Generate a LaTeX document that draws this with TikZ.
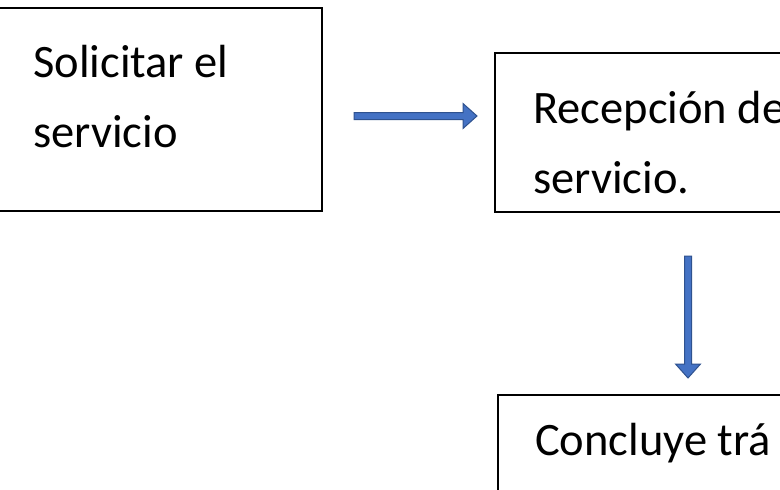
\documentclass[tikz,border=0pt]{standalone}
\usepackage{fontspec}
\setmainfont{Carlito}
\usetikzlibrary{calc}
\definecolor{arrowblue}{HTML}{4472C4}
\definecolor{arrowdark}{HTML}{2F528F}
\begin{document}
\begin{tikzpicture}[x=1pt,y=-1pt,
  box/.style={draw=black,line width=2.6pt,fill=none},
  txt/.style={anchor=base west,inner sep=0pt,font=\fontsize{46.5}{56}\selectfont},
  arr/.style={fill=arrowblue,draw=arrowdark,line width=1pt,line join=miter}]
\useasboundingbox (0,0) rectangle (780,490);
\clip (0,0) rectangle (780,490);
\fill[white] (0,0) rectangle (780,490);
% boxes
\draw[box] (-20,8) rectangle (322,211);
\coordinate (b1e) at (322,116);
\draw[box] (495,53) rectangle (900,212);
\coordinate (b2w) at (495,116);
\coordinate (b2s) at (688,212);
\draw[box] (498,395) rectangle (900,600);
\coordinate (b3n) at (688,395);
% texts
\node[txt] (t1a) at (33,77) {Solicitar el};
\node[txt] (t1b) at (33,147) {servicio};
\node[txt] (t2a) at (533,123) {Recepción de};
\node[txt] (t2b) at (533,193) {servicio.};
\node[txt] (t3a) at (535,455) {Concluye trá};
% arrow 1 (horizontal)
\coordinate (p1) at ($(b1e)+(32,0)$);
\coordinate (q1) at ($(b2w)+(-18,0)$);
\draw[arr] ($(p1)+(0,-3.5)$) -- ($(q1)+(-14,-3.5)$) -- ($(q1)+(-14,-12.5)$) -- (q1)
  -- ($(q1)+(-14,12.5)$) -- ($(q1)+(-14,3.5)$) -- ($(p1)+(0,3.5)$) -- cycle;
% arrow 2 (vertical)
\coordinate (p2) at ($(b2s)+(0,44)$);
\coordinate (q2) at ($(b3n)+(0,-17)$);
\draw[arr] ($(p2)+(-3.5,0)$) -- ($(q2)+(-3.5,-14)$) -- ($(q2)+(-12.5,-14)$) -- (q2)
  -- ($(q2)+(12.5,-14)$) -- ($(q2)+(3.5,-14)$) -- ($(p2)+(3.5,0)$) -- cycle;
\end{tikzpicture}
\end{document}
